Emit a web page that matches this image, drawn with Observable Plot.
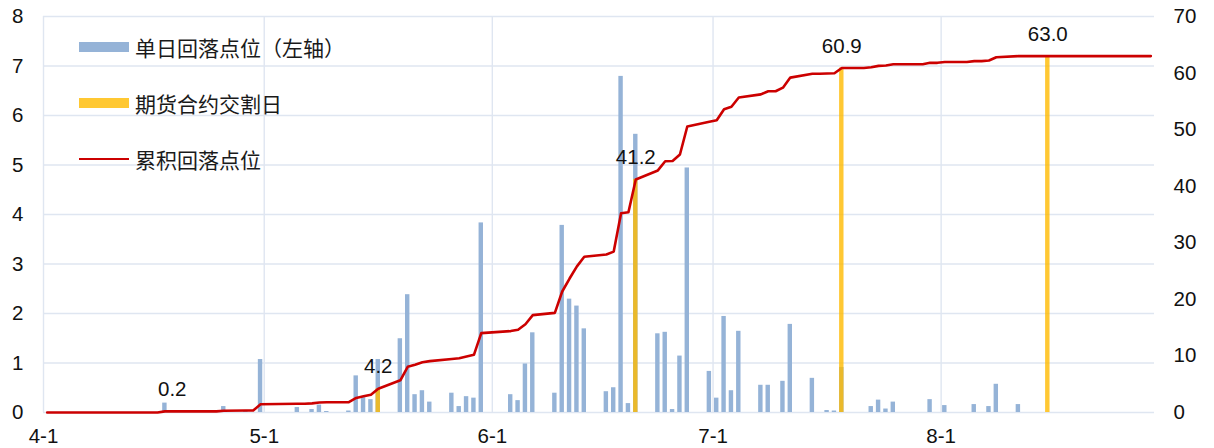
<!DOCTYPE html>
<html>
<head>
<meta charset="utf-8">
<script src="https://cdn.jsdelivr.net/npm/d3@7"></script>
<script src="https://cdn.jsdelivr.net/npm/@observablehq/plot@0.6"></script>
<style>
  html, body { margin: 0; padding: 0; background: #fff; }
  #wrap { position: relative; width: 1214px; height: 448px; }
  #legend { position: absolute; left: 79px; top: 0; font-family: "Noto Sans CJK SC", "Liberation Sans", sans-serif; font-size: 21px; color: #1a1a1a; }
  .item { position: absolute; left: 0; display: flex; align-items: center; white-space: nowrap; height: 24px; }
  .sw { width: 50px; margin-right: 6px; }
</style>
</head>
<body>
<div id="wrap">
  <div id="chart"></div>
  <div id="legend">
    <div class="item" style="top:35px"><span class="sw" style="height:10px;background:#95b3d7"></span><span>单日回落点位（左轴）</span></div>
    <div class="item" style="top:91px"><span class="sw" style="height:10px;background:#ffc832"></span><span>期货合约交割日</span></div>
    <div class="item" style="top:147px"><span class="sw" style="height:2.6px;background:#cc0000"></span><span>累积回落点位</span></div>
  </div>
</div>
<script>
// ---- data ----
const YEAR = 2014;
// daily pullback points (left axis)
const barDays = ["04-17","04-25","04-28","04-30",
  "05-05","05-07","05-08","05-09","05-12","05-13","05-14","05-15","05-16","05-19","05-20","05-21","05-22","05-23","05-26","05-27","05-28","05-29","05-30",
  "06-03","06-04","06-05","06-06","06-09","06-10","06-11","06-12","06-13","06-16","06-17","06-18","06-19","06-20","06-23","06-24","06-25","06-26","06-27","06-30",
  "07-01","07-02","07-03","07-04","07-07","07-08","07-10","07-11","07-14","07-16","07-17","07-18","07-22","07-23","07-24","07-25","07-30",
  "08-01","08-05","08-07","08-08","08-11"];
const barValues = [0.19,0.12,0.02,1.07,
  0.10,0.06,0.15,0.02,0.03,0.74,0.30,0.26,1.07,1.49,2.38,0.36,0.44,0.21,0.39,0.12,0.32,0.29,3.83,
  0.36,0.24,0.98,1.61,0.39,3.78,2.29,2.15,1.69,0.42,0.50,6.79,0.18,5.62,1.59,1.62,0.06,1.14,4.94,0.83,
  0.29,1.94,0.44,1.64,0.55,0.55,0.63,1.78,0.69,0.04,0.03,0.91,0.12,0.25,0.07,0.21,0.26,
  0.14,0.16,0.12,0.57,0.16];

// futures delivery days (cumulative value, right axis)
const deliveryDays = ["04-18","05-16","06-20","07-18","08-15"];
const deliveryValues = [0.2, 4.2, 41.2, 60.9, 63.0];

// cumulative pullback points (right axis)
const lineDays = ["04-01","04-02","04-03","04-04","04-08","04-09","04-10","04-11","04-14","04-15","04-16","04-17","04-18","04-21","04-22","04-23","04-24","04-25","04-28","04-29","04-30",
  "05-05","05-06","05-07","05-08","05-09","05-12","05-13","05-14","05-15","05-16","05-19","05-20","05-21","05-22","05-23","05-26","05-27","05-28","05-29","05-30",
  "06-03","06-04","06-05","06-06","06-09","06-10","06-11","06-12","06-13","06-16","06-17","06-18","06-19","06-20","06-23","06-24","06-25","06-26","06-27","06-30",
  "07-01","07-02","07-03","07-04","07-07","07-08","07-09","07-10","07-11","07-14","07-15","07-16","07-17","07-18","07-21","07-22","07-23","07-24","07-25","07-28","07-29","07-30","07-31",
  "08-01","08-04","08-05","08-06","08-07","08-08","08-11","08-12","08-13","08-14","08-15","08-18","08-19","08-20","08-21","08-22","08-25","08-26","08-27","08-28","08-29"];
const lineValues = [0,0,0,0,0,0,0,0,0,0,0,0.2,0.2,0.2,0.2,0.2,0.2,0.32,0.35,0.35,1.45,
  1.55,1.55,1.62,1.77,1.8,1.83,2.57,2.87,3.13,4.2,5.69,8.07,8.43,8.87,9.08,9.47,9.59,9.91,10.2,14.03,
  14.39,14.63,15.61,17.22,17.61,21.39,23.68,25.83,27.52,27.94,28.44,35.23,35.41,41.2,42.79,44.41,44.47,45.61,50.55,51.38,
  51.67,53.61,54.05,55.69,56.24,56.79,56.79,57.42,59.2,59.89,59.89,59.93,59.96,60.9,60.9,61.02,61.27,61.34,61.55,61.55,61.55,61.81,61.81,
  61.95,61.95,62.11,62.11,62.23,62.8,63.0,63.0,63.0,63.0,63.0,63.0,63.0,63.0,63.0,63.0,63.0,63.0,63.0,63.0,63.0];

const xTickDays = ["04-01","05-01","06-01","07-01","08-01"];
const xTickLabels = ["4-1","5-1","6-1","7-1","8-1"];
const leftTicks = [0,1,2,3,4,5,6,7,8];
const rightTicks = [0,10,20,30,40,50,60,70];

// ---- helpers ----
const LEFT_MAX = 8, RIGHT_MAX = 70;
const toRight = v => v * LEFT_MAX / RIGHT_MAX;
const HOUR = 3600 * 1000;
function dayStart(s) { const [m, d] = s.split("-").map(Number); return new Date(Date.UTC(YEAR, m - 1, d)); }
function dayMid(s) { return new Date(+dayStart(s) + 12 * HOUR); }
const HALF = 7.2 * HOUR; // half bar width

const bars = barDays.map((d, i) => ({x1: new Date(+dayMid(d) - HALF), x2: new Date(+dayMid(d) + HALF), v: barValues[i]}));
const delivery = deliveryDays.map((d, i) => ({x: dayMid(d), x1: new Date(+dayMid(d) - HALF), x2: new Date(+dayMid(d) + HALF), v: deliveryValues[i]}));
const line = lineDays.map((d, i) => ({x: dayMid(d), v: lineValues[i]}));
const xTicks = xTickDays.map(dayStart);

const grid = "#dfe6f1";
const font = "'Liberation Sans', Arial, sans-serif";
const FS = 20.5;

const chart = Plot.plot({
  width: 1214,
  height: 448,
  marginLeft: 43,
  marginRight: 60,
  marginTop: 16,
  marginBottom: 36,
  x: {type: "utc", domain: [dayStart("04-01"), dayStart("08-30")]},
  y: {domain: [0, LEFT_MAX]},
  style: {fontFamily: font, fontSize: FS + "px", color: "#1a1a1a", background: "#fff"},
  marks: [
    Plot.ruleY(leftTicks, {stroke: grid, strokeWidth: 1.4}),
    Plot.ruleX(xTicks, {stroke: grid, strokeWidth: 1.4}),
    Plot.rectY(bars, {x1: "x1", x2: "x2", y: "v", fill: "#95b3d7"}),
    Plot.rectY(delivery, {x1: "x1", x2: "x2", y: d => toRight(d.v), fill: "#ffba00", fillOpacity: 0.8}),
    Plot.line(line, {x: "x", y: d => toRight(d.v), stroke: "#cc0000", strokeWidth: 2.6, strokeLinejoin: "round"}),
    Plot.text(delivery, {x: "x", y: d => toRight(d.v), text: d => d.v.toFixed(1), dy: -22, lineAnchor: "middle", fill: "#111", fontSize: FS}),
    Plot.axisX(xTicks, {tickSize: 0, tickPadding: 16, tickFormat: (d, i) => xTickLabels[i], label: null, fontSize: FS, fill: "#111"}),
    Plot.axisY(leftTicks, {anchor: "left", tickSize: 0, tickPadding: 20, label: null, fontSize: FS, fill: "#111", tickFormat: d => String(d)}),
    Plot.axisY(rightTicks.map(toRight), {anchor: "right", tickSize: 0, tickPadding: 19, label: null, fontSize: FS, fill: "#111", tickFormat: (d, i) => String(rightTicks[i])})
  ]
});
document.getElementById("chart").appendChild(chart);
</script>
</body>
</html>
